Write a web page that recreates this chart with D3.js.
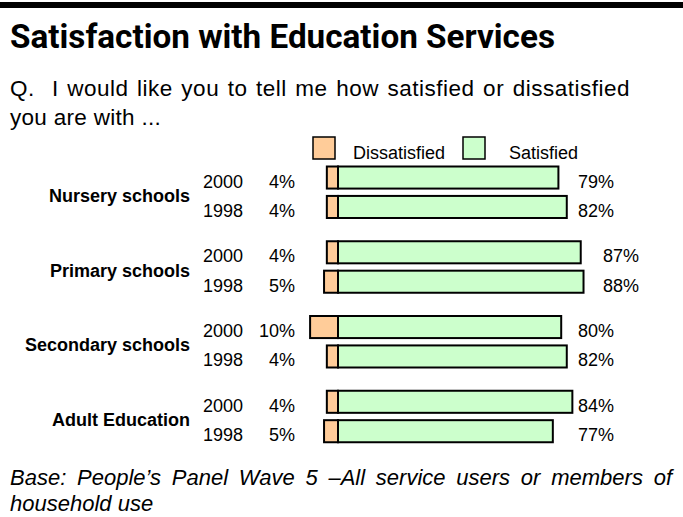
<!DOCTYPE html>
<html>
<head>
<meta charset="utf-8">
<script src="https://cdn.jsdelivr.net/npm/d3@7"></script>
<style>
  body { margin: 0; background: #fff; }
  text { font-family: "Liberation Sans", Arial, sans-serif; fill: #000; }
</style>
</head>
<body>
<script>
var width = 683, height = 517;

// data
var categories = ["Nursery schools", "Primary schools", "Secondary schools", "Adult Education"];
var years = ["2000", "1998"];
var dissatisfied = [[4, 4], [4, 5], [10, 4], [4, 5]];
var satisfied = [[79, 82], [87, 88], [80, 82], [84, 77]];

var rows = [];
categories.forEach(function(c, i){
  years.forEach(function(y, j){
    rows.push({cat: c, year: y, dis: dissatisfied[i][j], sat: satisfied[i][j]});
  });
});

var svg = d3.select("body").append("svg")
  .attr("width", width)
  .attr("height", height);

// stretch a line to a width by widening the gaps between words
function justify(sel, target){
  var natural = sel.node().getComputedTextLength();
  var gaps = sel.text().split(" ").length - 1;
  sel.style("word-spacing", ((target - natural) / gaps) + "px");
}

// black rule at the top
svg.append("rect").attr("x", 0).attr("y", 2).attr("width", width).attr("height", 6).attr("fill", "#000");

// title, sized to fit its width in the picture
var title = svg.append("text")
  .attr("x", 10).attr("y", 48)
  .style("font-family", "Roboto, 'Open Sans', sans-serif")
  .style("font-weight", "bold")
  .style("font-size", "26px")
  .text("Satisfaction with Education Services");
var tw = title.node().getComputedTextLength();
title.style("font-size", (26 * 545 / tw) + "px");

// question
var q1 = svg.append("text").attr("x", 10).attr("y", 96)
  .style("font-size", "22.5px").style("letter-spacing", "0.5px").style("white-space", "pre")
  .text("Q.  I would like you to tell me how satisfied or dissatisfied");
justify(q1, 620);
svg.append("text").attr("x", 10).attr("y", 125)
  .style("font-size", "22.5px").style("letter-spacing", "0.3px")
  .text("you are with ...");

// scales
var x = d3.scaleLinear().domain([0, 100]).range([338, 617]);
var y0 = d3.scaleBand().domain(categories).range([166.5, 465.5]);
var y1 = d3.scaleBand().domain(years).range([0, 51.5]).paddingInner(0.25);

var orange = "#ffcc99", green = "#ccffcc";

// legend
var legend = svg.append("g").attr("class", "legend");
legend.append("rect").attr("x", 313).attr("y", 137).attr("width", 22).attr("height", 22)
  .attr("fill", orange).attr("stroke", "#000").attr("stroke-width", 1.5);
legend.append("text").attr("x", 353).attr("y", 159).style("font-size", "18px").text("Dissatisfied");
legend.append("rect").attr("x", 463).attr("y", 137).attr("width", 22).attr("height", 22)
  .attr("fill", green).attr("stroke", "#000").attr("stroke-width", 1.5);
legend.append("text").attr("x", 509).attr("y", 159).style("font-size", "18px").text("Satisfied");

// category labels
svg.selectAll(".cat")
  .data(categories)
  .enter().append("text")
  .attr("class", "cat")
  .attr("x", 190)
  .attr("y", function(d){ return y0(d) + 51.5 / 2 + 9.5; })
  .attr("text-anchor", "end")
  .style("font-size", "18px")
  .style("font-weight", "bold")
  .text(function(d){ return d; });

var row = svg.selectAll(".row")
  .data(rows)
  .enter().append("g")
  .attr("class", "row")
  .attr("transform", function(d){ return "translate(0," + (y0(d.cat) + y1(d.year)) + ")"; });

var bh = y1.bandwidth();

// year labels
row.append("text")
  .attr("x", 203).attr("y", bh / 2 + 10)
  .style("font-size", "18px")
  .text(function(d){ return d.year; });

// dissatisfied % labels
row.append("text")
  .attr("x", 295).attr("y", bh / 2 + 10)
  .attr("text-anchor", "end")
  .style("font-size", "18px")
  .text(function(d){ return d.dis + "%"; });

// satisfied bars
row.append("rect")
  .attr("x", x(0))
  .attr("y", 0)
  .attr("width", function(d){ return x(d.sat) - x(0); })
  .attr("height", bh)
  .attr("fill", green)
  .attr("stroke", "#000").attr("stroke-width", 2);

// dissatisfied bars, drawn to the left of zero
row.append("rect")
  .attr("x", function(d){ return x(-d.dis); })
  .attr("y", 0)
  .attr("width", function(d){ return x(0) - x(-d.dis); })
  .attr("height", bh)
  .attr("fill", orange)
  .attr("stroke", "#000").attr("stroke-width", 2);

// satisfied % labels
row.append("text")
  .attr("x", function(d){ return x(d.sat) > x(85) ? x(95) : x(86); })
  .attr("y", bh / 2 + 10)
  .style("font-size", "18px")
  .text(function(d){ return d.sat + "%"; });

// footer note, first line justified
var f1 = svg.append("text").attr("x", 10).attr("y", 485)
  .style("font-size", "22px").style("font-style", "italic")
  .text("Base: People\u2019s Panel Wave 5 \u2013All service users or members of");
justify(f1, 662);
svg.append("text").attr("x", 10).attr("y", 511)
  .style("font-size", "22px").style("font-style", "italic")
  .text("household use");
</script>
</body>
</html>
